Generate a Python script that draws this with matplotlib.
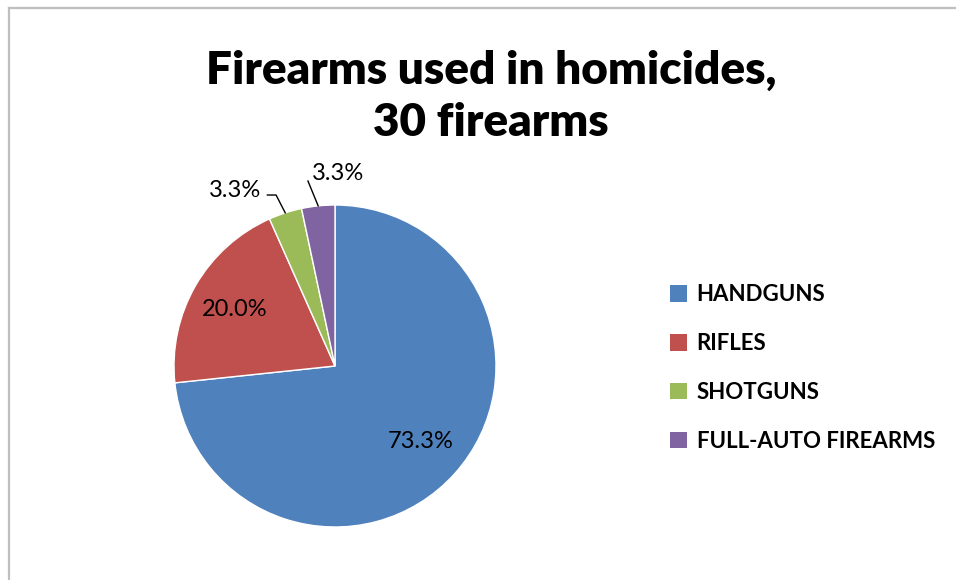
import numpy as np
import matplotlib
matplotlib.use("Agg")
import matplotlib.pyplot as plt
from matplotlib.lines import Line2D
from matplotlib.patches import Patch

categories = ["HANDGUNS", "RIFLES", "SHOTGUNS", "FULL-AUTO FIREARMS"]
counts = [22, 6, 1, 1]
colors = ["#4F81BD", "#C0504D", "#9BBB59", "#8064A2"]
title = "Firearms used in homicides,\n30 firearms"

plt.rcParams["font.family"] = ["Lato", "DejaVu Sans"]

W, H = 956, 580
fig = plt.figure(figsize=(W / 100, H / 100), dpi=100)
fig.patch.set_facecolor("white")

# chart frame (top and left edges visible)
fig.add_artist(Line2D([9 / W, 9 / W], [0, 1 - 8 / H], color="#BFBFBF", lw=1.6, transform=fig.transFigure))
fig.add_artist(Line2D([9 / W, 1], [1 - 8 / H, 1 - 8 / H], color="#BFBFBF", lw=1.6, transform=fig.transFigure))

cx, cy, r = 335, 366, 161
ax = fig.add_axes([(cx - r) / W, 1 - (cy + r) / H, 2 * r / W, 2 * r / H])
total = sum(counts)
wedges, _ = ax.pie(counts, colors=colors, startangle=90, counterclock=False,
                   wedgeprops=dict(edgecolor="white", linewidth=1.0))
ax.set_xlim(-1, 1)
ax.set_ylim(-1, 1)
ax.set_aspect("equal")
ax.axis("off")

fs = 17
for i, w in enumerate(wedges):
    pct = f"{100 * counts[i] / total:.1f}%"
    mid = np.deg2rad((w.theta1 + w.theta2) / 2)
    ex, ey = np.cos(mid), np.sin(mid)
    if counts[i] / total > 0.1:
        ax.text(0.72 * ex, 0.70 * ey, pct, ha="center", va="center", fontsize=fs, color="#000000")
    elif i == 2:
        ax.text(-0.62, 1.093, pct, ha="center", va="center", fontsize=fs, clip_on=False)
        ax.plot([-0.42, -0.366, ex], [1.062, 1.062, ey], color="black", lw=1, clip_on=False)
    else:
        ax.text(0.02, 1.193, pct, ha="center", va="center", fontsize=fs, clip_on=False)
        ax.plot([-0.168, ex], [1.149, ey], color="black", lw=1, clip_on=False)

fig.text(491 / W, 1 - 96 / H, title, ha="center", va="center", fontsize=33,
         fontweight="heavy", linespacing=1.32)

handles = [Patch(facecolor=c, edgecolor="none") for c in colors]
fig.legend(handles, categories, loc="center left", bbox_to_anchor=(650 / W, 1 - 368 / H),
           frameon=False, prop=dict(weight="bold", size=16), handlelength=0.75,
           handleheight=0.75, handletextpad=0.45, labelspacing=1.25)

fig.savefig("out.png", dpi=100, facecolor="white")
